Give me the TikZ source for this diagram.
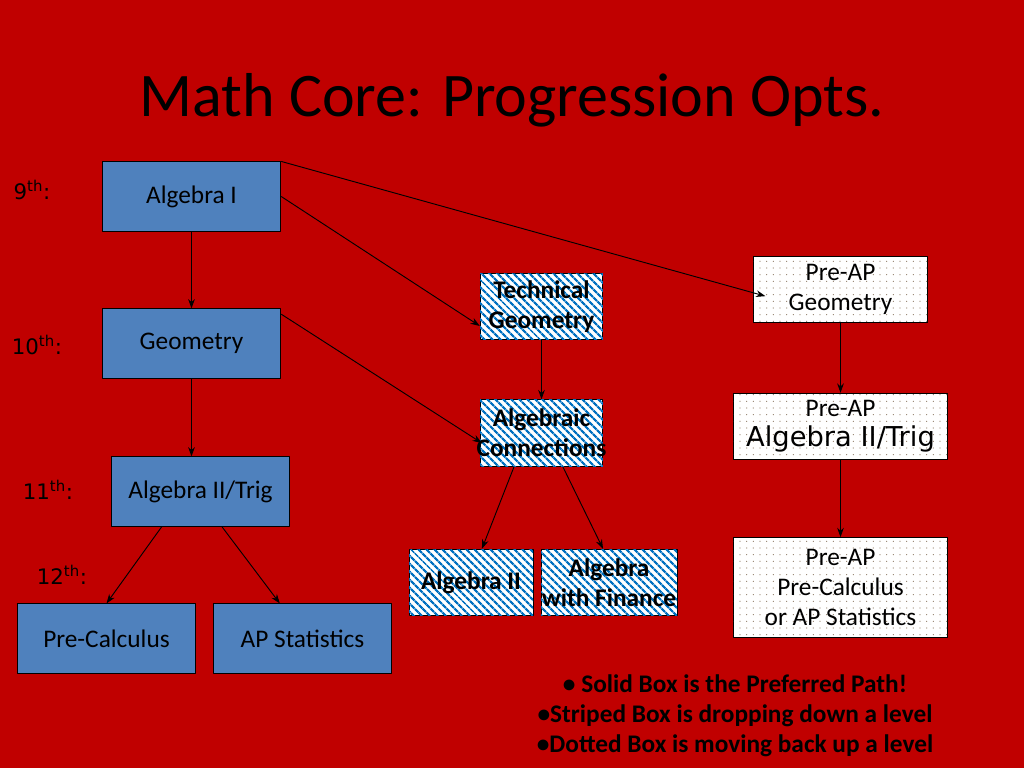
\documentclass[tikz,border=0pt]{standalone}
\usepackage{fontspec}
\setmainfont{Carlito}
\newfontfamily\comicfont{DejaVu Sans}
\usetikzlibrary{arrows.meta,patterns.meta}
\definecolor{bgred}{RGB}{192,0,0}
\definecolor{boxblue}{RGB}{79,129,189}
\definecolor{stripeblue}{RGB}{0,112,192}
\tikzset{
  box/.style={draw=black, line width=0.6pt, inner sep=0pt, align=center, font=\fontsize{19}{22.5}\selectfont},
  solidbox/.style={box, fill=boxblue},
  stripebox/.style={box, fill=white, font=\fontsize{19}{22.5}\selectfont\bfseries,
    postaction={pattern={Lines[angle=-45,distance=4pt,line width=1.8pt]}, pattern color=stripeblue}},
  dotbox/.style={box, fill=white, font=\fontsize{19}{22.5}\selectfont,
    postaction={pattern={Dots[radius=0.45pt,distance=5pt]}, pattern color=gray!70!brown}},
  grade/.style={font=\comicfont\fontsize{16}{19}\selectfont, text=black}
}
\begin{document}
\begin{tikzpicture}[x=0.75pt, y=-0.75pt, >={Stealth[length=7pt,width=5pt]}, line join=round, line width=0.7pt]
	\fill[bgred] (0,0) rectangle (1024,768);
	\node (title) at (512,100) {\fontsize{46.5}{56}\selectfont Math Core: Progression Opts.};
	% grades
	\node[grade] (g9) at (32,190) {9\textsuperscript{th}:};
	\node[grade] (g10) at (37,345) {10\textsuperscript{th}:};
	\node[grade] (g11) at (48,490) {11\textsuperscript{th}:};
	\node[grade] (g12) at (62,575) {12\textsuperscript{th}:};
	% preferred path
	\node[solidbox, minimum width=134pt, minimum height=52pt] (alg1) at (191.5,196.5) {Algebra I};
	\node[solidbox, minimum width=134pt, minimum height=52pt] (geo) at (191.5,343.5) {Geometry};
	\node[solidbox, minimum width=134pt, minimum height=52pt] (alg2trig) at (200.5,491.5) {Algebra II/Trig};
	\node[solidbox, minimum width=134pt, minimum height=52pt] (precalc) at (106.5,638.5) {Pre-Calculus};
	\node[solidbox, minimum width=134pt, minimum height=52pt] (apstat) at (302.5,638.5) {AP Statistics};
	% dropping down
	\node[stripebox, text width=92pt, minimum height=50pt] (techgeo) at (541.5,306.5) {Technical\\Geometry};
	\node[stripebox, text width=92pt, minimum height=50pt] (algconn) at (541.5,433) {Algebraic\\\makebox[\linewidth]{Connections}};
	\node[stripebox, minimum width=93pt, minimum height=50pt] (alg2) at (471,582.5) {Algebra II};
	\node[stripebox, minimum width=102pt, minimum height=50pt] (algfin) at (609,582.5) {Algebra\\with Finance};
	% moving up
	\node[dotbox, minimum width=130pt, minimum height=50pt] (apgeo) at (840.5,289.5) {Pre-AP\\Geometry};
	\node[dotbox, minimum width=160pt, minimum height=50pt] (apalg2) at (840.5,426.5) {Pre-AP\\{\comicfont\fontsize{20.5}{22.5}\selectfont Algebra II/Trig}};
	\node[dotbox, minimum width=160pt, minimum height=75pt] (apcalc) at (840.5,587.5) {Pre-AP\\Pre-Calculus\\or AP Statistics};
	% arrows
	\draw[->] (alg1) -- (geo);
	\draw[->] (geo.south) -- (geo.south |- alg2trig.north);
	\draw[->] ([xshift=-29pt]alg2trig.south) -- (precalc.north);
	\draw[->] ([xshift=16pt]alg2trig.south) -- ([xshift=-17pt]apstat.north);
	\draw[->] (alg1.east) -- ([yshift=-14.6pt]techgeo.west);
	\draw[->] (alg1.north east) -- ([xshift=9pt,yshift=-5pt]apgeo.west);
	\draw[->] ([yshift=22pt]geo.east) -- ([xshift=1.5pt,yshift=-7.5pt]algconn.west);
	\draw[->] (techgeo) -- (algconn);
	\draw[->] ([xshift=-20.6pt]algconn.south) -- ([xshift=8.2pt]alg2.north);
	\draw[->] ([xshift=16pt]algconn.south) -- ([xshift=-4.5pt]algfin.north);
	\draw[->] (apgeo) -- (apalg2);
	\draw[->] (apalg2) -- (apcalc);
	% legend
	\node[align=center, font=\fontsize{19}{22.5}\selectfont\bfseries] (legend) at (735,716)
		{\textbullet\ Solid Box is the Preferred Path!\\
		 \textbullet Striped Box is dropping down a level\\
		 \textbullet Dotted Box is moving back up a level};
\end{tikzpicture}
\end{document}
